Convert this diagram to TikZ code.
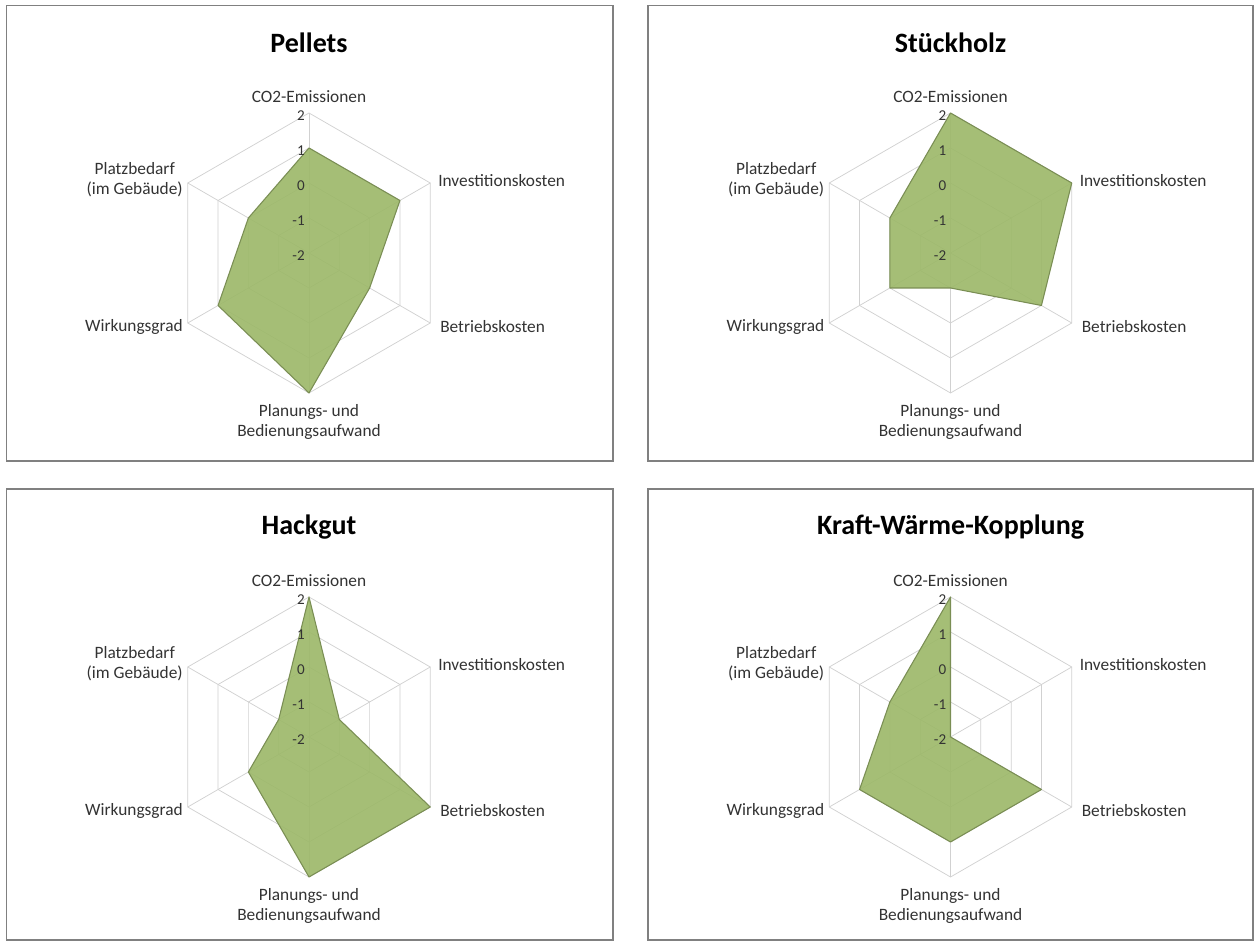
\documentclass[tikz,border=0pt]{standalone}
\usepackage{fontspec}
\setmainfont{Carlito}
\definecolor{areagreen}{RGB}{156,184,104}
\definecolor{areaedge}{RGB}{122,142,84}
\tikzset{
  panel/.style={draw=black!50, line width=1.1pt, fill=white},
  gridln/.style={draw=black!18, line width=0.55pt},
  area/.style={fill=areagreen, fill opacity=0.9, draw=areaedge, line width=0.8pt, line join=round},
  axlab/.style={font=\fontsize{13}{15}\selectfont, text=black!80, inner sep=0pt, align=center},
  ticklab/.style={font=\fontsize{11.3}{12}\selectfont, text=black!80, inner sep=0pt, anchor=east},
  ttl/.style={font=\fontsize{21}{24}\selectfont\bfseries, inner sep=0pt}
}
\newcommand\myradar[5]{%
  \begin{scope}[shift={(#2,#3)}]
    \foreach \r in {35,70,105,140}
      \draw[gridln] (90:\r) -- (30:\r) -- (-30:\r) -- (-90:\r) -- (210:\r) -- (150:\r) -- cycle;
    \foreach \a in {90,30,-30,-90,210,150}
      \draw[gridln] (0,0) -- (\a:140);
    \foreach \v [count=\i] in {#5}
      \coordinate (#1-p\i) at ({150-60*\i}:{(\v+2)*35});
    \draw[area] (#1-p1) -- (#1-p2) -- (#1-p3) -- (#1-p4) -- (#1-p5) -- (#1-p6) -- cycle;
    \foreach \v [count=\i from 0] in {-2,-1,0,1,2}
      \node[ticklab] (#1-k\i) at (-4,{\i*35-3}) {\v};
    \node[ttl] (#1-t) at (0,210) {#4};
    \node[axlab] (#1-l1) at (0,156) {CO2-Emissionen};
    \node[axlab, anchor=west] (#1-l2) at (129,72) {Investitionskosten};
    \node[axlab, anchor=west] (#1-l3) at (131,-74) {Betriebskosten};
    \node[axlab] (#1-l4) at (0,-168.5) {Planungs- und\\Bedienungsaufwand};
    \node[axlab, anchor=east] (#1-l5) at (-126,-74) {Wirkungsgrad};
    \node[axlab, anchor=east] (#1-l6) at (-126,73) {Platzbedarf\\(im Gebäude)};
  \end{scope}}
\begin{document}
\begin{tikzpicture}[x=0.75pt,y=0.75pt]
  \useasboundingbox (0,0) rectangle (1255,941);
  \fill[white] (0,0) rectangle (1255,941);
  \draw[panel] (6.5,935.5) rectangle (613,480);
  \draw[panel] (648,935.5) rectangle (1253,480);
  \draw[panel] (6.5,452) rectangle (613,1);
  \draw[panel] (648,452) rectangle (1253,1);
  \myradar{pel}{309}{688}{Pellets}{1,1,0,2,1,0}
  \myradar{stu}{950.5}{688}{Stückholz}{2,2,1,-1,0,0}
  \myradar{hac}{309}{204}{Hackgut}{2,-1,2,2,0,-1}
  \myradar{kwk}{950.5}{204}{Kraft-Wärme-Kopplung}{2,-2,1,1,1,0}
\end{tikzpicture}
\end{document}
